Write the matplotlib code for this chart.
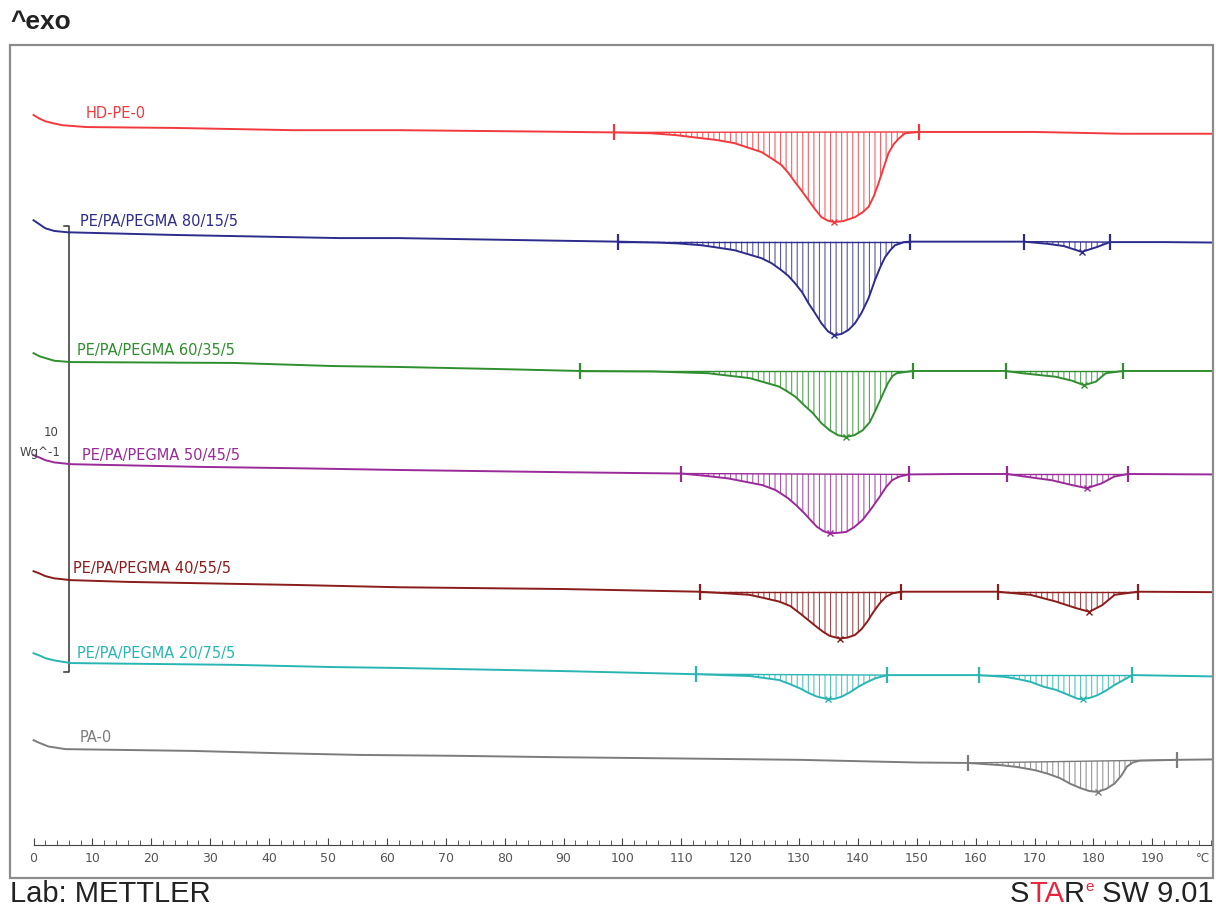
import numpy as np
import matplotlib.pyplot as plt
from matplotlib.patches import Rectangle
from matplotlib.ticker import FixedLocator
from matplotlib.transforms import blended_transform_factory
from matplotlib.offsetbox import TextArea, HPacker, AnchoredOffsetbox

plt.rcParams['font.family'] = ['DejaVu Sans']
plt.rcParams['hatch.linewidth'] = 0.8

# DSC heating curves: temperature (degC) and heat flow (W/g, curves stacked)
temp_hdpe = [0, 1, 2, 3.5, 5, 9, 24, 44, 62, 85, 98.6, 105, 109, 113.4, 116, 119, 123.6, 125.3,
             127, 128.2, 129.3, 130.5, 131.6, 132.7, 133.8, 134.9, 136, 137.5, 139.5, 140.8,
             141.8, 142.7, 143.5, 144.4, 145.2, 146.1, 147, 148, 150.3, 170, 185, 200.5]
flow_hdpe = [17.11, 17.03, 16.97, 16.92, 16.88, 16.84, 16.82, 16.77, 16.77, 16.74, 16.72, 16.70,
             16.66, 16.59, 16.55, 16.48, 16.28, 16.14, 15.99, 15.81, 15.61, 15.40, 15.20, 15.00,
             14.82, 14.74, 14.71, 14.73, 14.82, 14.93, 15.05, 15.29, 15.58, 15.94, 16.26, 16.46,
             16.59, 16.70, 16.73, 16.73, 16.69, 16.69]
lim_hdpe = [(98.6, 150.3)]

temp_80 = [0, 1, 2, 3.5, 5.8, 24, 52, 62, 85, 99.3, 106, 109.5, 113.4, 116, 119, 123.6, 125.3,
           127, 128.2, 129.3, 130.5, 131.6, 132.7, 133.8, 134.9, 136, 137.2, 138.4, 139.5, 140.6,
           141.8, 142.9, 143.8, 144.6, 145.5, 146.3, 147, 147.8, 148.8, 158, 168.2, 172.3, 175,
           178, 180.6, 182.8, 192, 200.5]
flow_80 = [14.75, 14.66, 14.57, 14.51, 14.48, 14.42, 14.35, 14.35, 14.30, 14.27, 14.25, 14.23,
           14.19, 14.14, 14.08, 13.90, 13.79, 13.63, 13.50, 13.34, 13.14, 12.89, 12.67, 12.44,
           12.26, 12.17, 12.20, 12.29, 12.44, 12.67, 13.00, 13.41, 13.70, 13.92, 14.08, 14.19,
           14.22, 14.26, 14.27, 14.27, 14.27, 14.22, 14.17, 14.04, 14.15, 14.26, 14.26, 14.25]
lim_80 = [(99.3, 148.8), (168.2, 182.8)]

temp_60 = [0, 1, 2, 3.5, 6.3, 34, 51, 62, 80, 92.8, 105, 114.5, 121.6, 124, 126.6, 127.9, 129.4,
           130.8, 132.3, 133.8, 135.2, 136.6, 138.0, 139.4, 140.8, 142.0, 143.0, 144.1, 145.1,
           145.9, 146.6, 149.3, 157, 165.1, 167.9, 173.6, 176.4, 178.4, 180.4, 182.1, 185.0, 200.5]
flow_60 = [11.77, 11.70, 11.66, 11.60, 11.57, 11.55, 11.48, 11.46, 11.41, 11.37, 11.36, 11.32,
           11.21, 11.12, 11.02, 10.92, 10.79, 10.61, 10.43, 10.20, 10.04, 9.93, 9.89, 9.93, 10.04,
           10.22, 10.49, 10.81, 11.10, 11.26, 11.32, 11.37, 11.37, 11.37, 11.32, 11.24, 11.15,
           11.05, 11.13, 11.32, 11.37, 11.37]
lim_60 = [(92.8, 149.3), (165.1, 185.0)]

temp_50 = [0, 1, 2, 3.5, 6.3, 28, 44, 62, 90, 110.0, 114, 118.0, 123.8, 126, 128.1, 129.5, 130.9,
           132, 133.0, 134.1, 135.2, 136.6, 138.0, 139.4, 140.8, 142.2, 143.7, 144.8, 145.8, 147,
           148.6, 157, 165.4, 167.9, 172.9, 176.4, 178.9, 181.4, 183.5, 185.8, 200.5]
flow_50 = [9.48, 9.43, 9.37, 9.32, 9.28, 9.22, 9.19, 9.15, 9.10, 9.07, 9.02, 8.96, 8.81, 8.70,
           8.52, 8.36, 8.18, 8.02, 7.88, 7.78, 7.73, 7.74, 7.76, 7.87, 8.03, 8.27, 8.55, 8.77,
           8.92, 9.00, 9.05, 9.06, 9.06, 9.01, 8.92, 8.81, 8.74, 8.85, 9.00, 9.06, 9.05]
lim_50 = [(110.0, 148.6), (165.4, 185.8)]

temp_40 = [0, 1, 2, 3.5, 6.3, 16, 45, 62, 90, 113.1, 117, 121.6, 124, 126.6, 128.5, 130.2, 131.6,
           133.0, 134.1, 135.2, 136.9, 138.2, 139.5, 140.6, 141.6, 142.6, 143.7, 144.7, 145.8,
           147.3, 155, 163.8, 169.3, 173.6, 177.1, 179.3, 181.5, 183.6, 187.5, 200.5]
flow_40 = [6.88, 6.83, 6.77, 6.72, 6.68, 6.64, 6.57, 6.52, 6.48, 6.42, 6.39, 6.35, 6.28, 6.20,
           6.10, 5.93, 5.78, 5.63, 5.52, 5.43, 5.37, 5.39, 5.45, 5.58, 5.75, 5.96, 6.16, 6.30,
           6.38, 6.42, 6.42, 6.42, 6.35, 6.20, 6.05, 5.97, 6.12, 6.35, 6.42, 6.41]
lim_40 = [(113.1, 147.3), (163.8, 187.5)]

temp_20 = [0, 1, 2, 3.5, 6.3, 34, 51, 62, 90, 112.5, 121.6, 126.6, 128.4, 130.2, 131.6, 133.0,
           134.9, 136.1, 137.3, 138.7, 140.1, 141.5, 143.0, 145.0, 152, 160.5, 165.0, 167.2,
           169.3, 171.5, 173.6, 176.4, 177.3, 178.2, 179.4, 180.7, 182.1, 183.6, 185.1, 186.6,
           200.5]
flow_20 = [5.04, 4.99, 4.93, 4.88, 4.82, 4.78, 4.73, 4.71, 4.64, 4.57, 4.53, 4.44, 4.35, 4.25,
           4.15, 4.07, 4.01, 4.02, 4.07, 4.17, 4.29, 4.39, 4.48, 4.55, 4.55, 4.55, 4.51, 4.46,
           4.40, 4.29, 4.22, 4.07, 4.02, 4.01, 4.04, 4.10, 4.20, 4.33, 4.44, 4.55, 4.52]
lim_20 = [(112.5, 145.0), (160.5, 186.6)]

temp_pa = [0, 1, 2.5, 5.4, 27, 41.3, 55.3, 71.9, 88.2, 110, 130, 150, 158.7, 164.3, 167, 170.0,
           172.2, 174.3, 176.1, 177.9, 179.3, 180.7, 182.2, 183.6, 184.7, 185.7, 186.7, 187.8,
           194.2, 201]
flow_pa = [3.09, 3.03, 2.95, 2.89, 2.85, 2.80, 2.76, 2.74, 2.71, 2.68, 2.65, 2.59, 2.58, 2.53,
           2.49, 2.42, 2.34, 2.24, 2.11, 2.01, 1.95, 1.93, 2.00, 2.12, 2.29, 2.50, 2.59, 2.63,
           2.65, 2.66]
lim_pa = [(158.7, 194.2)]

names = ['HD-PE-0', 'PE/PA/PEGMA 80/15/5', 'PE/PA/PEGMA 60/35/5', 'PE/PA/PEGMA 50/45/5',
         'PE/PA/PEGMA 40/55/5', 'PE/PA/PEGMA 20/75/5', 'PA-0']
colors = ['#f23a3e', '#2c2c8c', '#2f8f2f', '#9a2a9a', '#8b1c1c', '#2ab5b5', '#7c7c7c']
temps = [temp_hdpe, temp_80, temp_60, temp_50, temp_40, temp_20, temp_pa]
flows = [flow_hdpe, flow_80, flow_60, flow_50, flow_40, flow_20, flow_pa]
limits = [lim_hdpe, lim_80, lim_60, lim_50, lim_40, lim_20, lim_pa]
label_pos = [(8.9, 17.15), (7.9, 14.73), (7.4, 11.82), (8.2, 9.48), (6.7, 6.93), (7.4, 5.04),
             (7.9, 3.16)]

# 10 W/g scale bar
bar_temp = 6.1
bar_low, bar_high = 4.62, 14.62

fig = plt.figure(figsize=(12.16, 9.08), dpi=100)
ax = fig.add_axes([10/1216, 30/908, 1203/1216, 833/908])
ax.set_xlim(-4.0, 200.3)
ax.set_ylim(0, 18.68)

for name, c, t, q, lims, lp in zip(names, colors, temps, flows, limits, label_pos):
    t = np.array(t)
    q = np.array(q)
    ax.plot(t, q, color=c, lw=1.4, solid_joinstyle='round', zorder=3)
    for a, b in lims:
        m = (t >= a) & (t <= b)
        ax.fill(t[m], q[m], fill=False, hatch='|||', edgecolor=c, lw=0, alpha=0.8, zorder=2)
        qa, qb = q[t == a][0], q[t == b][0]
        ax.plot([a, b], [qa, qb], color=c, lw=1.0, zorder=3)
        ax.plot([a, b], [qa, qb], ls='none', marker='|', ms=12, mew=1.6, color=c, zorder=4)
        k = np.argmin(q[m])
        ax.plot(t[m][k], q[m][k], marker='x', ms=4, mew=1, color=c, zorder=4)
    ax.text(lp[0], lp[1], name, color=c, fontsize=10.5, va='center', ha='left')

ax.plot([bar_temp - 0.9, bar_temp, bar_temp, bar_temp - 0.9],
        [bar_high, bar_high, bar_low, bar_low], color='#333333', lw=1.1)
ax.text(4.3, 10.0, '10', fontsize=8.5, color='#444444', ha='right', va='center')
ax.text(4.6, 9.55, 'Wg^-1', fontsize=8.5, color='#444444', ha='right', va='center')

# frame and temperature scale
for s in ['top', 'left', 'right']:
    ax.spines[s].set_visible(False)
ax.add_patch(Rectangle((0, 0), 1, 1, transform=ax.transAxes, fill=False, ec='#8c8c8c',
                       lw=1.6, clip_on=False, zorder=5))
ax.spines['bottom'].set_position(('axes', 33/833))
ax.spines['bottom'].set_bounds(0, 200.3)
ax.spines['bottom'].set_color('#444444')
ax.set_xticks(np.arange(0, 191, 10))
ax.xaxis.set_minor_locator(FixedLocator(np.arange(0, 201, 2)))
ax.tick_params(axis='x', which='both', direction='in', colors='#444444',
               labelcolor='#555555', labelsize=9, pad=5)
ax.tick_params(axis='x', which='major', length=5)
ax.tick_params(axis='x', which='minor', length=3.5)
ax.set_yticks([])
tr = blended_transform_factory(ax.transData, ax.transAxes)
ax.annotate('°C', xy=(198.6, 33/833), xycoords=tr, xytext=(0, -5), textcoords='offset points',
            ha='center', va='top', fontsize=8.5, color='#555555')

fig.text(10/1216, 1 - 22/908, '^exo', fontsize=19, family='Liberation Sans', weight='bold',
         va='center', color='#222222')
fig.text(10/1216, 6/908, 'Lab: METTLER', fontsize=21, family='Liberation Sans',
         va='baseline', color='#222222')

tp = dict(fontsize=21, family='Liberation Sans', color='#222222')
tr_red = dict(tp, color='#e8243c')
parts = [TextArea('S', textprops=tp), TextArea('TA', textprops=tr_red),
         TextArea('R', textprops=tp),
         TextArea('e', textprops=dict(fontsize=11, family='Liberation Sans', color='#e8243c')),
         TextArea(' SW 9.01', textprops=tp)]
box = HPacker(children=parts, align='top', pad=0, sep=0)
anch = AnchoredOffsetbox(loc='lower right', child=box, frameon=False, borderpad=0, pad=0,
                         bbox_to_anchor=(1213/1216, 0.0), bbox_transform=fig.transFigure)
fig.add_artist(anch)

fig.savefig('out.png', dpi=100)
